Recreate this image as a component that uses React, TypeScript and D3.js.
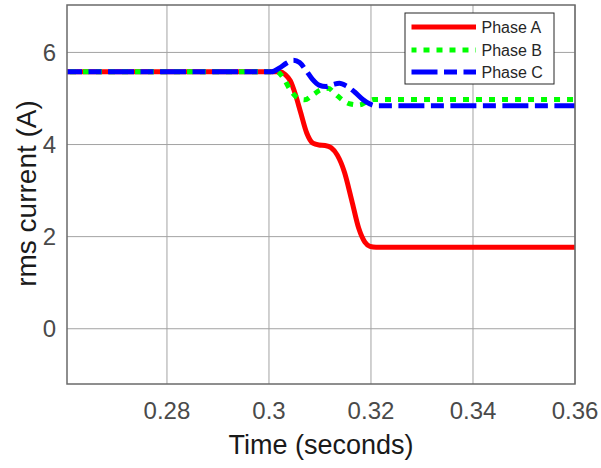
import React from "react";
import * as d3 from "d3";

const xTicks = [0.28, 0.3, 0.32, 0.34, 0.36];
const xTickLabels = ["0.28", "0.3", "0.32", "0.34", "0.36"];
const yTicks = [0, 2, 4, 6];
const yTickLabels = ["0", "2", "4", "6"];

const timeA = [0.2604, 0.3020, 0.3032, 0.3042, 0.3052, 0.3062, 0.3074, 0.3086, 0.3098, 0.3110, 0.3122, 0.3134, 0.3148, 0.3162, 0.3176, 0.3188, 0.3198, 0.3210, 0.36];
const phaseA = [5.58, 5.58, 5.52, 5.38, 5.08, 4.70, 4.25, 4.03, 3.99, 3.98, 3.93, 3.77, 3.40, 2.80, 2.18, 1.88, 1.79, 1.77, 1.77];

const timeB = [0.2604, 0.3015, 0.3028, 0.3041, 0.3054, 0.3070, 0.3085, 0.3100, 0.3116, 0.3130, 0.3145, 0.3160, 0.3177, 0.3192, 0.3205, 0.36];
const phaseB = [5.58, 5.58, 5.45, 5.20, 5.03, 4.97, 5.07, 5.18, 5.22, 5.10, 4.96, 4.88, 4.86, 4.93, 4.98, 4.98];

const timeC = [0.2604, 0.3005, 0.3020, 0.3035, 0.3048, 0.3060, 0.3072, 0.3085, 0.3098, 0.3112, 0.3125, 0.3138, 0.3152, 0.3168, 0.3184, 0.3198, 0.3212, 0.36];
const phaseC = [5.58, 5.58, 5.66, 5.77, 5.83, 5.78, 5.62, 5.42, 5.29, 5.26, 5.30, 5.33, 5.27, 5.14, 4.98, 4.88, 4.84, 4.84];

const seriesNames = ["Phase A", "Phase B", "Phase C"];

const W = 601;
const H = 468;
const L = 67, R = 575, T = 5, B = 384;
const FONT = "'Liberation Sans', Arial, Helvetica, sans-serif";

export default function App() {
  const x = d3.scaleLinear().domain([0.2604, 0.36]).range([L, R]);
  const y = d3.scaleLinear().domain([-1.2, 7.03]).range([B, T]);

  const mk = (ts: number[], vs: number[]) =>
    d3.line<number>().x((_, i) => x(ts[i])).y((v) => y(v)).curve(d3.curveMonotoneX)(vs) || "";

  const styles = [
    { color: "#ff0000", width: 5, dash: undefined as string | undefined, offset: 0 },
    { color: "#00ff00", width: 5, dash: "6 7", offset: -3 },
    { color: "#0000ff", width: 5, dash: "26 6.5 13 6.5", offset: 11 },
  ];
  const paths = [mk(timeA, phaseA), mk(timeB, phaseB), mk(timeC, phaseC)];

  const legX = 405, legY = 13, legW = 149, legH = 71;
  const rowY = [27, 50, 72];

  return (
    <svg width={W} height={H} style={{ position: "absolute", left: 0, top: 0, background: "#fff" }}>
      <rect x={0} y={0} width={W} height={H} fill="#fff" />
      <rect x={L} y={T} width={R - L} height={B - T} fill="#fff" />
      {xTicks.map((t) => (
        <line key={"gx" + t} x1={x(t)} x2={x(t)} y1={T} y2={B} stroke="#a3a3a3" strokeWidth={1} />
      ))}
      {yTicks.map((t) => (
        <line key={"gy" + t} x1={L} x2={R} y1={y(t)} y2={y(t)} stroke="#a3a3a3" strokeWidth={1} />
      ))}
      <defs>
        <clipPath id="plotclip">
          <rect x={L} y={T} width={R - L} height={B - T} />
        </clipPath>
      </defs>
      <g clipPath="url(#plotclip)">
        {paths.map((p, i) => (
          <path
            key={i}
            d={p}
            fill="none"
            stroke={styles[i].color}
            strokeWidth={styles[i].width}
            strokeDasharray={styles[i].dash}
            strokeDashoffset={styles[i].offset}
            strokeLinejoin="round"
          />
        ))}
      </g>
      <rect x={L} y={T} width={R - L} height={B - T} fill="none" stroke="#6a6a6a" strokeWidth={1.5} />
      {xTicks.map((t, i) => (
        <text key={"tx" + t} x={x(t)} y={419} textAnchor="middle" fontSize={24} fill="#4a4a4a" fontFamily={FONT}>
          {xTickLabels[i]}
        </text>
      ))}
      {yTicks.map((t, i) => (
        <text key={"ty" + t} x={56} y={y(t)} dy="0.35em" textAnchor="end" fontSize={24} fill="#4a4a4a" fontFamily={FONT}>
          {yTickLabels[i]}
        </text>
      ))}
      <text x={(L + R) / 2} y={454} textAnchor="middle" fontSize={27} fill="#1a1a1a" fontFamily={FONT}>
        Time (seconds)
      </text>
      <text
        transform={`translate(36, ${(T + B) / 2 - 1}) rotate(-90)`}
        textAnchor="middle"
        fontSize={28}
        fill="#1a1a1a"
        fontFamily={FONT}
      >
        rms current (A)
      </text>
      <rect x={legX} y={legY} width={legW} height={legH} fill="#fff" stroke="#262626" strokeWidth={1} />
      {seriesNames.map((n, i) => (
        <g key={n}>
          <line
            x1={411.5}
            x2={476}
            y1={rowY[i]}
            y2={rowY[i]}
            stroke={styles[i].color}
            strokeWidth={styles[i].width}
            strokeDasharray={styles[i].dash}
            strokeDashoffset={i === 1 ? 1 : 0}
          />
          <text x={481.5} y={rowY[i]} dy="0.36em" fontSize={16} fill="#262626" fontFamily={FONT}>
            {n}
          </text>
        </g>
      ))}
    </svg>
  );
}
